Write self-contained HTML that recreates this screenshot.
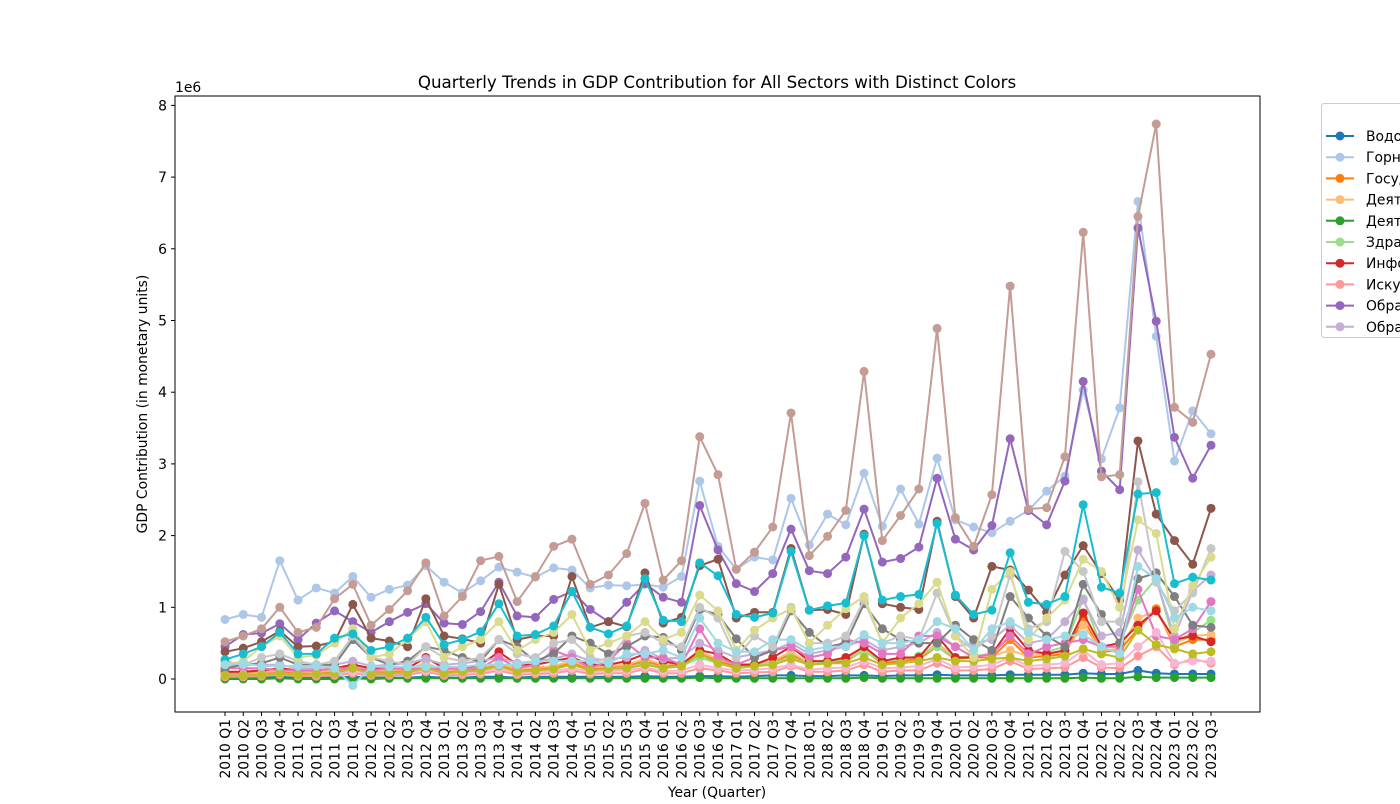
<!DOCTYPE html>
<html><head><meta charset="utf-8"><style>
body{margin:0;background:#fff;width:1400px;height:800px;overflow:hidden;font-family:"DejaVu Sans","Liberation Sans",sans-serif}
svg text{font-family:"DejaVu Sans","Liberation Sans",sans-serif}
</style></head><body>
<svg id="chart" width="1400" height="800" xmlns="http://www.w3.org/2000/svg"></svg>
<script>
const years=[2010,2011,2012,2013,2014,2015,2016,2017,2018,2019,2020,2021,2022,2023];
const categories=[];years.forEach(y=>{for(let q=1;q<=4;q++){if(!(y===2023&&q===4))categories.push(y+" Q"+q);}});
const yTicks=[0,1,2,3,4,5,6,7,8];
const seriesNames=["Водоснабжение","Горнодобывающая промышленность","Государственное управление","Деятельность гостиниц","Деятельность финансовая","Здравоохранение","Информация и связь","Искусство","Обрабатывающие производства","Образование","Сельское хозяйство","Строительство","Торговля","Транспорт","Недвижимость","Наука","Прочие услуги","Профессиональная деятельность","Операции с имуществом","Электроэнергия"];
const s0=[0.02,0.02,0.02,0.03,0.02,0.02,0.02,0.03,0.02,0.02,0.02,0.03,0.02,0.02,0.03,0.03,0.02,0.03,0.03,0.03,0.03,0.03,0.03,0.04,0.03,0.03,0.04,0.04,0.03,0.04,0.05,0.05,0.04,0.04,0.05,0.05,0.04,0.05,0.05,0.06,0.05,0.05,0.05,0.06,0.06,0.06,0.06,0.08,0.07,0.07,0.12,0.08,0.07,0.07,0.07];
const s1=[0.83,0.9,0.86,1.65,1.1,1.27,1.2,1.43,1.14,1.25,1.31,1.58,1.35,1.2,1.37,1.56,1.49,1.42,1.55,1.52,1.27,1.31,1.3,1.32,1.28,1.43,2.76,1.85,1.53,1.7,1.66,2.52,1.87,2.3,2.15,2.87,2.13,2.65,2.16,3.08,2.22,2.12,2.04,2.2,2.35,2.62,2.83,4.03,3.07,3.78,6.66,4.78,3.04,3.74,3.42];
const s2=[0.08,0.08,0.09,0.1,0.08,0.09,0.1,0.15,0.1,0.1,0.12,0.18,0.1,0.12,0.14,0.2,0.12,0.14,0.16,0.22,0.14,0.16,0.18,0.25,0.18,0.2,0.35,0.25,0.18,0.2,0.22,0.35,0.2,0.22,0.25,0.4,0.22,0.25,0.28,0.45,0.28,0.3,0.3,0.55,0.3,0.32,0.35,0.85,0.38,0.4,0.7,0.98,0.45,0.55,0.55];
const s3=[0.1,0.1,0.1,0.12,0.1,0.1,0.12,0.18,0.12,0.12,0.14,0.22,0.12,0.14,0.16,0.22,0.14,0.16,0.18,0.25,0.16,0.18,0.2,0.28,0.2,0.22,0.38,0.28,0.2,0.22,0.25,0.38,0.22,0.25,0.28,0.42,0.25,0.28,0.3,0.5,0.3,0.32,0.32,0.4,0.32,0.35,0.38,0.75,0.4,0.42,0.85,0.95,0.5,0.6,0.62];
const s4=[0.0,0.0,0.0,0.01,0.0,0.0,0.0,0.01,0.0,0.01,0.01,0.01,0.01,0.01,0.01,0.01,0.01,0.01,0.01,0.01,0.01,0.01,0.01,0.01,0.01,0.01,0.02,0.01,0.01,0.01,0.01,0.01,0.01,0.01,0.01,0.02,0.01,0.01,0.01,0.01,0.01,0.01,0.01,0.01,0.01,0.01,0.01,0.02,0.01,0.01,0.03,0.02,0.02,0.02,0.02];
const s5=[0.05,0.05,0.06,0.08,0.06,0.06,0.07,0.12,0.07,0.08,0.09,0.14,0.08,0.1,0.12,0.18,0.1,0.12,0.14,0.2,0.12,0.14,0.16,0.22,0.15,0.18,0.3,0.22,0.15,0.2,0.22,0.3,0.2,0.25,0.28,0.38,0.25,0.28,0.32,0.45,0.3,0.32,0.35,0.6,0.35,0.38,0.45,1.12,0.45,0.5,1.1,1.4,0.5,0.65,0.82];
const s6=[0.1,0.1,0.12,0.15,0.12,0.12,0.15,0.2,0.15,0.15,0.15,0.3,0.15,0.15,0.2,0.38,0.2,0.2,0.25,0.3,0.2,0.2,0.25,0.35,0.25,0.2,0.4,0.35,0.2,0.2,0.3,0.45,0.25,0.25,0.3,0.45,0.25,0.3,0.3,0.6,0.3,0.3,0.35,0.7,0.4,0.35,0.4,0.92,0.45,0.5,0.75,0.95,0.55,0.6,0.52];
const s7=[0.03,0.03,0.04,0.06,0.04,0.04,0.05,0.08,0.05,0.05,0.06,0.1,0.05,0.06,0.07,0.12,0.06,0.07,0.08,0.12,0.07,0.08,0.08,0.14,0.08,0.08,0.15,0.12,0.08,0.09,0.1,0.18,0.1,0.1,0.12,0.2,0.1,0.12,0.12,0.22,0.12,0.12,0.14,0.25,0.14,0.15,0.16,0.3,0.16,0.15,0.32,0.45,0.2,0.28,0.22];
const s8=[0.45,0.62,0.64,0.77,0.55,0.78,0.95,0.8,0.65,0.8,0.93,1.05,0.78,0.76,0.94,1.35,0.88,0.86,1.11,1.22,0.97,0.8,1.07,1.33,1.14,1.07,2.42,1.8,1.33,1.22,1.47,2.09,1.51,1.47,1.7,2.37,1.63,1.68,1.84,2.8,1.95,1.8,2.14,3.35,2.35,2.15,2.76,4.15,2.9,2.64,6.29,4.99,3.37,2.8,3.26];
const s9=[0.2,0.2,0.2,0.2,0.15,0.15,0.2,0.25,0.18,0.2,0.22,0.28,0.2,0.22,0.25,0.3,0.22,0.25,0.28,0.35,0.25,0.28,0.3,0.4,0.28,0.3,0.5,0.4,0.3,0.35,0.4,0.5,0.35,0.4,0.45,0.55,0.4,0.45,0.5,0.65,0.45,0.5,0.55,0.75,0.5,0.55,0.8,1.1,0.6,0.65,1.8,1.38,0.6,1.23,1.45];
const s10=[0.38,0.43,0.52,0.67,0.45,0.46,0.52,1.04,0.57,0.53,0.45,1.12,0.6,0.56,0.5,1.32,0.55,0.6,0.6,1.43,0.72,0.8,0.73,1.48,0.78,0.86,1.58,1.67,0.85,0.93,0.93,1.82,0.96,0.97,0.9,2.02,1.05,1.0,0.97,2.2,1.15,0.85,1.57,1.52,1.24,0.93,1.45,1.86,1.47,1.1,3.32,2.3,1.93,1.6,2.38];
const s11=[0.52,0.6,0.7,1.0,0.65,0.72,1.12,1.32,0.75,0.97,1.23,1.62,0.88,1.15,1.65,1.71,1.08,1.43,1.85,1.95,1.32,1.45,1.75,2.45,1.38,1.65,3.38,2.85,1.53,1.77,2.12,3.71,1.72,1.99,2.35,4.29,1.93,2.28,2.65,4.89,2.25,1.85,2.57,5.48,2.37,2.39,3.1,6.23,2.82,2.85,6.45,7.74,3.79,3.58,4.53];
const s12=[0.15,0.15,0.15,0.12,0.12,0.12,0.15,0.15,0.12,0.15,0.15,0.15,0.15,0.15,0.15,0.3,0.15,0.2,0.4,0.3,0.15,0.25,0.5,0.3,0.3,0.2,0.7,0.3,0.2,0.3,0.4,0.45,0.3,0.35,0.55,0.5,0.35,0.35,0.6,0.6,0.45,0.3,0.35,0.6,0.35,0.45,0.5,0.55,0.45,0.45,1.25,0.6,0.55,0.7,1.08];
const s13=[0.06,0.06,0.07,0.08,0.06,0.07,0.08,0.1,0.07,0.08,0.09,0.12,0.08,0.09,0.1,0.14,0.09,0.1,0.11,0.15,0.1,0.11,0.12,0.16,0.11,0.12,0.2,0.15,0.12,0.13,0.15,0.2,0.13,0.15,0.16,0.25,0.15,0.16,0.18,0.28,0.16,0.17,0.2,0.3,0.18,0.2,0.22,0.4,0.2,0.22,0.45,0.65,0.22,0.25,0.25];
const s14=[0.15,0.2,0.22,0.3,0.2,0.2,0.2,0.55,0.3,0.2,0.25,0.45,0.4,0.3,0.25,0.55,0.45,0.25,0.35,0.6,0.5,0.35,0.45,0.6,0.58,0.4,0.97,0.9,0.56,0.3,0.4,0.95,0.65,0.45,0.5,1.05,0.7,0.55,0.5,0.5,0.75,0.55,0.4,1.15,0.85,0.6,0.45,1.32,0.9,0.5,1.4,1.48,1.15,0.75,0.72];
const s15=[0.25,0.2,0.3,0.35,0.25,0.2,0.25,0.6,0.3,0.25,0.2,0.45,0.3,0.25,0.3,0.55,0.35,0.3,0.5,0.55,0.3,0.25,0.6,0.65,0.5,0.45,1.0,0.85,0.3,0.6,0.45,1.0,0.5,0.5,0.6,1.1,0.5,0.6,0.55,1.2,0.6,0.4,0.6,1.45,0.7,0.8,1.78,1.5,0.8,0.8,2.75,1.35,0.95,1.2,1.82];
const s16=[0.05,0.05,0.06,0.08,0.06,0.07,0.08,0.15,0.07,0.08,0.09,0.15,0.08,0.1,0.12,0.18,0.1,0.12,0.14,0.2,0.12,0.14,0.15,0.2,0.15,0.18,0.35,0.22,0.15,0.18,0.2,0.28,0.2,0.22,0.22,0.3,0.2,0.22,0.25,0.3,0.25,0.25,0.28,0.3,0.25,0.28,0.32,0.42,0.35,0.3,0.68,0.48,0.42,0.35,0.38];
const s17=[0.2,0.25,0.45,0.6,0.3,0.33,0.5,0.7,0.3,0.35,0.55,0.8,0.3,0.45,0.55,0.8,0.4,0.55,0.65,0.9,0.4,0.5,0.6,0.8,0.55,0.65,1.17,0.95,0.4,0.68,0.85,0.98,0.5,0.75,0.98,1.15,0.5,0.85,1.05,1.35,0.6,0.3,1.25,1.5,0.55,0.85,1.1,1.67,1.5,1.0,2.22,2.03,0.7,1.3,1.7];
const s18=[0.27,0.35,0.45,0.65,0.35,0.35,0.57,0.63,0.4,0.45,0.57,0.86,0.48,0.55,0.66,1.05,0.6,0.62,0.74,1.22,0.72,0.63,0.74,1.4,0.82,0.8,1.62,1.44,0.9,0.86,0.92,1.78,0.96,1.02,1.06,2.0,1.1,1.15,1.18,2.17,1.17,0.9,0.96,1.76,1.07,1.04,1.15,2.43,1.28,1.2,2.58,2.6,1.33,1.42,1.38];
const s19=[0.2,0.22,0.18,0.18,0.18,0.18,0.15,-0.09,0.17,0.17,0.17,0.17,0.17,0.17,0.2,0.2,0.2,0.25,0.25,0.25,0.25,0.22,0.35,0.35,0.4,0.3,0.85,0.5,0.38,0.38,0.55,0.55,0.4,0.45,0.45,0.62,0.5,0.5,0.55,0.8,0.7,0.4,0.7,0.8,0.65,0.55,0.6,0.62,0.45,0.35,1.57,1.4,0.85,1.0,0.95];
const seriesValues=[s0,s1,s2,s3,s4,s5,s6,s7,s8,s9,s10,s11,s12,s13,s14,s15,s16,s17,s18,s19];
const colors=["#1f77b4","#aec7e8","#ff7f0e","#ffbb78","#2ca02c","#98df8a","#d62728","#ff9896","#9467bd","#c5b0d5","#8c564b","#c49c94","#e377c2","#f7b6d2","#7f7f7f","#c7c7c7","#bcbd22","#dbdb8d","#17becf","#9edae5"];
const legendShown=10;

const NS="http://www.w3.org/2000/svg";
const svg=document.getElementById("chart");
const L=175,R=1260,T=96,B=712;
const xScale=i=>225+i*(1211-225)/(categories.length-1);
const yScale=v=>679-v*71.7;
function mk(tag,attrs,parent){const e=document.createElementNS(NS,tag);for(const k in attrs)e.setAttribute(k,attrs[k]);(parent||svg).appendChild(e);return e;}

const frame=mk("rect",{x:L,y:T,width:R-L,height:B-T,fill:"none",stroke:"#000","stroke-width":1});



const title=mk("text",{x:717,y:88,"text-anchor":"middle","font-size":16.7});
title.textContent="Quarterly Trends in GDP Contribution for All Sectors with Distinct Colors";



const off=mk("text",{x:175,y:92,"font-size":13.9});
off.textContent="1e6";



yTicks.forEach(t=>{
  const y=yScale(t);
  const tk=mk("line",{x1:L-4,x2:L,y1:y,y2:y,stroke:"#000"});
  
  
  const tl=mk("text",{x:L-8,y:y+5,"text-anchor":"end","font-size":13.9});
  tl.textContent=t;
  
  
});
categories.forEach((c,i)=>{
  const x=xScale(i);
  const tk=mk("line",{x1:x,x2:x,y1:B,y2:B+4,stroke:"#000"});
  
  
  const tl=mk("text",{x:0,y:0,"text-anchor":"end","font-size":13.9,transform:`translate(${x+5},${B+7}) rotate(-90)`});
  tl.textContent=c;
  
  
});
const xt=mk("text",{x:717,y:797,"text-anchor":"middle","font-size":13.9});
xt.textContent="Year (Quarter)";


const yt=mk("text",{x:0,y:0,"text-anchor":"middle","font-size":13.9,transform:"translate(147,404) rotate(-90)"});
yt.textContent="GDP Contribution (in monetary units)";



const clip=mk("clipPath",{id:"pc"});mk("rect",{x:L,y:T,width:R-L,height:B-T},clip);
seriesValues.forEach((vals,si)=>{
  const g=mk("g",{"clip-path":"url(#pc)"});
  
  
  const pts=vals.map((v,i)=>xScale(i).toFixed(1)+","+yScale(v).toFixed(1)).join(" ");
  const pl=mk("polyline",{points:pts,fill:"none",stroke:colors[si],"stroke-width":2},g);
  
  
  vals.forEach((v,i)=>{
    const c=mk("circle",{cx:xScale(i),cy:yScale(v),r:4.5,fill:colors[si]},g);
    
    
  });
});

const lg=mk("g",{});


mk("rect",{x:1321.5,y:103.5,width:120,height:234,rx:3,fill:"#fff",stroke:"#ccc"},lg);
for(let i=0;i<legendShown;i++){
  const y=136+i*21.2;
  const e=mk("g",{},lg);
  
  
  mk("line",{x1:1326,x2:1354,y1:y,y2:y,stroke:colors[i],"stroke-width":2},e);
  mk("circle",{cx:1340,cy:y,r:4.5,fill:colors[i]},e);
  const t=mk("text",{x:1366,y:y+5,"font-size":13.9},e);
  t.textContent=seriesNames[i];
}
</script>
</body></html>
